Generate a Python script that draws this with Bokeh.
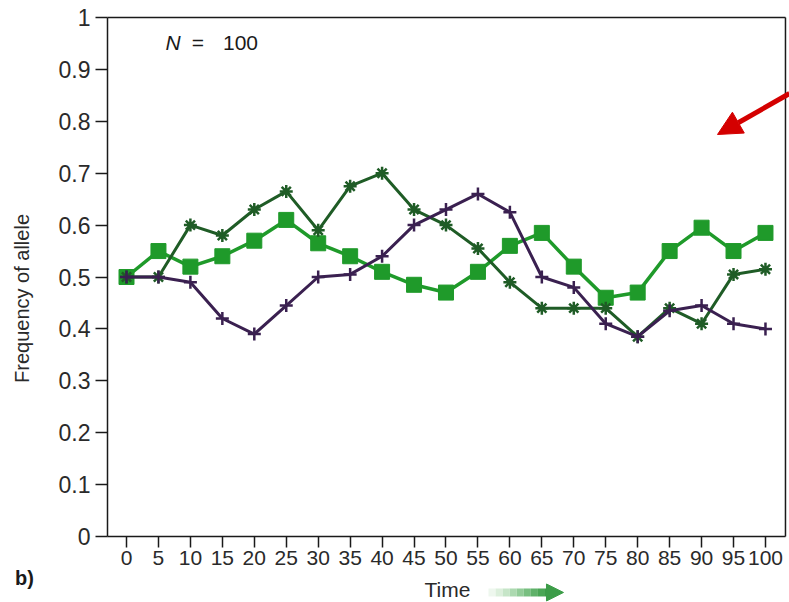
import math
from bokeh.plotting import figure
from bokeh.models import Range1d, FixedTicker, Arrow, NormalHead
from bokeh.core.properties import value
from bokeh.embed import file_html
from bokeh.resources import INLINE

# ---- data ----
time = [0, 5, 10, 15, 20, 25, 30, 35, 40, 45, 50, 55, 60, 65, 70, 75, 80, 85, 90, 95, 100]
freq_square = [0.50, 0.55, 0.52, 0.54, 0.57, 0.61, 0.565, 0.54, 0.51, 0.485, 0.47,
               0.51, 0.56, 0.585, 0.52, 0.46, 0.47, 0.55, 0.595, 0.55, 0.585]
freq_star = [0.50, 0.50, 0.60, 0.58, 0.63, 0.665, 0.59, 0.675, 0.70, 0.63, 0.60,
             0.555, 0.49, 0.44, 0.44, 0.44, 0.385, 0.44, 0.41, 0.505, 0.515]
freq_cross = [0.50, 0.50, 0.49, 0.42, 0.39, 0.445, 0.50, 0.505, 0.54, 0.60, 0.63,
              0.66, 0.625, 0.50, 0.48, 0.41, 0.385, 0.435, 0.445, 0.41, 0.40]
y_ticks = [0, 0.1, 0.2, 0.3, 0.4, 0.5, 0.6, 0.7, 0.8, 0.9, 1]
y_tick_labels = ["0", "0.1", "0.2", "0.3", "0.4", "0.5", "0.6", "0.7", "0.8", "0.9", "1"]

FONT = "Liberation Sans"
C_SQUARE = "#1f9a2a"
C_STAR = "#1f5c26"
C_CROSS = "#3a2050"
INK = "#1a1a1a"
LABEL_INK = "#2a2a2a"

# plotting box (data units) and full-canvas ranges
BOX_L, BOX_R, BOX_B, BOX_T = -2.97, 103.13, 0.0, 1.0

p = figure(width=789, height=602, output_backend="svg", toolbar_location=None,
           x_range=Range1d(-19.72, 103.76), y_range=Range1d(-0.1272, 1.0328),
           min_border_left=0, min_border_right=0, min_border_top=0, min_border_bottom=0)
p.background_fill_color = "white"
p.border_fill_color = "white"
p.outline_line_color = None
p.xgrid.visible = False
p.ygrid.visible = False

# x axis (drawn at y = 0)
p.xaxis.fixed_location = BOX_B
p.xaxis.bounds = (BOX_L, BOX_R)
p.xaxis.ticker = FixedTicker(ticks=time)
p.xaxis.major_label_text_font = FONT
p.xaxis.major_label_text_font_size = "21px"
p.xaxis.major_label_text_color = LABEL_INK
p.xaxis.major_label_standoff = 4
p.xaxis.major_tick_out = 11
p.xaxis.major_tick_in = 0
p.xaxis.minor_tick_out = 0
p.xaxis.minor_tick_in = 0
p.xaxis.axis_line_width = 1.5
p.xaxis.major_tick_line_width = 1.5
p.xaxis.axis_line_color = INK
p.xaxis.major_tick_line_color = INK

# y axis (drawn at left edge of box)
p.yaxis.fixed_location = BOX_L
p.yaxis.bounds = (BOX_B, BOX_T)
p.yaxis.ticker = FixedTicker(ticks=y_ticks)
p.yaxis.major_label_overrides = {t: s for t, s in zip(y_ticks, y_tick_labels)}
p.yaxis.major_label_text_font = FONT
p.yaxis.major_label_text_font_size = "23px"
p.yaxis.major_label_text_color = LABEL_INK
p.yaxis.major_label_standoff = 5
p.yaxis.major_tick_out = 12
p.yaxis.major_tick_in = 0
p.yaxis.minor_tick_out = 0
p.yaxis.minor_tick_in = 0
p.yaxis.axis_line_width = 1.5
p.yaxis.major_tick_line_width = 1.5
p.yaxis.axis_line_color = INK
p.yaxis.major_tick_line_color = INK

# top and right border of the box
p.segment(x0=[BOX_L, BOX_R], y0=[BOX_T, BOX_B], x1=[BOX_R, BOX_R], y1=[BOX_T, BOX_T],
          line_color=INK, line_width=1.5)

# series
p.line(time, freq_square, line_color=C_SQUARE, line_width=3.5)
p.scatter(time, freq_square, marker="square", size=15, fill_color=C_SQUARE, line_color=C_SQUARE)

p.line(time, freq_star, line_color=C_STAR, line_width=3)
p.scatter(time, freq_star, marker="asterisk", size=13, line_color=C_STAR, line_width=2.5)

p.line(time, freq_cross, line_color=C_CROSS, line_width=3)
p.scatter(time, freq_cross, marker="cross", size=13, line_color=C_CROSS, line_width=2.5)

# texts
p.text(x=[-16.28], y=[0.4586], text=["Frequency of allele"], angle=math.pi / 2,
       text_align="center", text_baseline="middle", text_font=value(FONT),
       text_font_size="20px", text_color=LABEL_INK)
p.text(x=[-15.96], y=[-0.0809], text=["b)"], text_align="center", text_baseline="middle",
       text_font=value(FONT), text_font_size="20px", text_font_style="bold", text_color=INK)
p.text(x=[50.23], y=[-0.1021], text=["Time"], text_align="center", text_baseline="middle",
       text_font=value(FONT), text_font_size="21px", text_color=LABEL_INK)
p.text(x=[6.1], y=[0.951], text=["N"], text_align="left", text_baseline="middle",
       text_font=value(FONT), text_font_size="21px", text_font_style="italic", text_color=INK)
p.text(x=[10.2], y=[0.951], text=["="], text_align="left", text_baseline="middle",
       text_font=value(FONT), text_font_size="21px", text_color=INK)
p.text(x=[15.1], y=[0.951], text=["100"], text_align="left", text_baseline="middle",
       text_font=value(FONT), text_font_size="21px", text_color=INK)

# green gradient arrow after "Time"
grad = ["#eef7ee", "#dcefdc", "#c6e5c8", "#acd9b0", "#92cc98", "#78bf80", "#5fb169",
        "#4aa655", "#3c9c48"]
ax0, ax1, ay = 56.65, 66.6, -0.1079
n = len(grad)
gx0 = [ax0 + (ax1 - ax0) * i / n for i in range(n)]
gx1 = [ax0 + (ax1 - ax0) * (i + 1) / n for i in range(n)]
p.segment(x0=gx0, y0=[ay] * n, x1=gx1, y1=[ay] * n, line_color=grad, line_width=8,
          line_cap="butt")
p.add_layout(Arrow(end=NormalHead(size=17, fill_color="#3c9c48", line_color="#3c9c48"),
                   x_start=66.0, y_start=ay, x_end=68.39, y_end=ay,
                   line_color="#3c9c48", line_width=8))

# red pointer arrow
RED = "#d40000"
p.add_layout(Arrow(end=NormalHead(size=24, fill_color=RED, line_color=RED),
                   x_start=103.76, y_start=0.8536, x_end=92.49, y_end=0.7746,
                   line_color=RED, line_width=5))

open("out.html", "w").write(file_html(p, INLINE))
